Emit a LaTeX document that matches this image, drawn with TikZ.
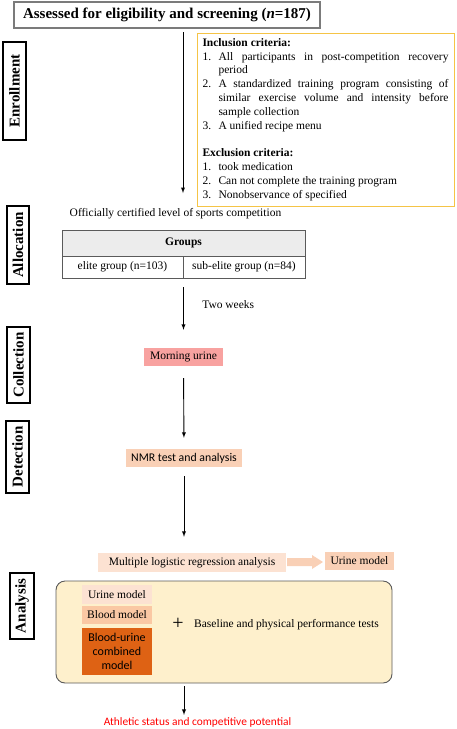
\documentclass[tikz,border=0pt]{standalone}
\usepackage{fontspec}
\setmainfont{Liberation Serif}
\newfontfamily\calib{Carlito}
\definecolor{critline}{RGB}{245,196,70}
\definecolor{pinkfill}{RGB}{248,162,160}
\definecolor{peachfill}{RGB}{249,208,182}
\definecolor{paleorange}{RGB}{252,226,210}
\definecolor{creamfill}{RGB}{254,240,204}
\definecolor{darkorange}{RGB}{222,98,20}
\definecolor{boxgray}{RGB}{90,90,90}
\newcommand{\bodysize}{\fontsize{11.5}{13.8}\selectfont}
\newenvironment{critlist}{\begin{list}{}{\setlength{\leftmargin}{16pt}\setlength{\labelwidth}{16pt}\setlength{\labelsep}{0pt}\setlength{\itemsep}{0pt}\setlength{\parsep}{0pt}\setlength{\topsep}{0pt}\setlength{\partopsep}{0pt}}}{\end{list}}
\begin{document}
\begin{tikzpicture}[x=1pt, y=-1pt,
		font=\bodysize,
		stage/.style={draw, line width=1.1pt, rotate=90, font=\fontsize{15}{15}\selectfont\bfseries, inner sep=0pt},
		cell/.style={draw=boxgray, line width=0.8pt, inner sep=0pt},
		tag/.style={inner sep=0pt},
		flow/.style={-latex, line width=0.9pt}]
		\useasboundingbox (0,0) rectangle (457,729);
		% left column
		\node[stage, minimum width=98, minimum height=23] (enroll) at (14.5,91) {Enrollment};
		\node[stage, minimum width=78, minimum height=22] (alloc) at (18,245) {Allocation};
		\node[stage, minimum width=76, minimum height=23] (collect) at (18.5,365) {Collection};
		\node[stage, minimum width=72, minimum height=23] (detect) at (17.5,457) {Detection};
		\node[stage, minimum width=66, minimum height=24] (analy) at (22,606) {Analysis};
		% enrollment
		\node[draw=boxgray!80, line width=1.4pt, minimum width=306, minimum height=26, inner sep=0pt, font=\fontsize{15}{15}\selectfont\bfseries] (title) at (167,15) {Assessed for eligibility and screening (\textit{n}=187)};
		\node[draw=critline, line width=0.9pt, minimum width=257, minimum height=173, inner sep=0pt] (crit) at (325.5,119.5) {%
			\begin{minipage}{246pt}
				\bodysize
				\textbf{Inclusion criteria:}
				\begin{critlist}
					\item[1.\hfill] All participants in post-competition recovery\linebreak period
					\item[2.\hfill] A standardized training program consisting of\linebreak similar exercise volume and intensity before\linebreak sample collection
					\item[3.\hfill] A unified recipe menu
				\end{critlist}
				\vspace{13.8pt}
				\textbf{Exclusion criteria:}
				\begin{critlist}
					\item[1.\hfill] took medication
					\item[2.\hfill] Can not complete the training program
					\item[3.\hfill] Nonobservance of specified
				\end{critlist}
			\end{minipage}};
		\coordinate (e1) at (183,32);
		\coordinate (e2) at (183,193);
		\draw[flow] (e1) -- (e2);
		% allocation
		\node[tag] (level) at (175.5,214) {Officially certified level of sports competition};
		\node[cell, fill=gray!15, minimum width=243, minimum height=26, font=\bodysize\bfseries] (groups) at (183.5,243) {Groups};
		\node[cell, minimum width=121, minimum height=22] (elite) at (122.5,267) {elite group (n=103)};
		\node[cell, minimum width=122, minimum height=22] (subelite) at (244,267) {sub-elite group (n=84)};
		% collection
		\node[tag, fill=pinkfill, minimum width=79, minimum height=18] (urine) at (183.5,357) {Morning urine};
		\draw[flow, shorten <=9pt, shorten >=18pt] (groups.center |- elite.south) -- (urine.north) node[midway, right, xshift=15pt, yshift=9pt] {Two weeks};
		% detection
		\node[tag, fill=peachfill, minimum width=116, minimum height=18, font=\calib\fontsize{11.8}{11.8}\selectfont] (nmr) at (184,458) {NMR test and analysis};
		\draw[flow, shorten <=12pt, shorten >=11pt] (urine.south) -- (nmr.north);
		% analysis
		\node[tag, fill=paleorange, minimum width=188, minimum height=19] (mlr) at (192,562.5) {Multiple logistic regression analysis};
		\node[tag, fill=peachfill, minimum width=69, minimum height=18] (umodel) at (359.5,561) {Urine model};
		\draw[flow, shorten <=9pt, shorten >=16pt] (nmr.south) -- (nmr.south |- mlr.north);
		\fill[peachfill] (287,558) -- (312,558) -- (312,555) -- (323,562) -- (312,569) -- (312,566) -- (287,566) -- cycle;
		\node[draw=boxgray, line width=0.9pt, fill=creamfill, rounded corners=9pt, minimum width=336, minimum height=102] (merge) at (224,632) {};
		\node[tag, fill=paleorange, minimum width=70, minimum height=19] (inurine) at (117,594.5) {Urine model};
		\node[tag, fill=peachfill!90!orange, minimum width=70, minimum height=18] (inblood) at (117,615) {Blood model};
		\node[tag, fill=darkorange, minimum width=70, minimum height=47, align=center, font=\calib\fontsize{12}{14}\selectfont] (combined) at (117,651.5) {Blood-urine\\combined\\model};
		\node[tag, font=\fontsize{20}{20}\selectfont] (plus) at (178,624) {+};
		\node[tag] (baseline) at (286.5,625) {Baseline and physical performance tests};
		\node[tag, text=red, font=\calib\fontsize{11.4}{11.4}\selectfont] (result) at (197.5,722) {Athletic status and competitive potential};
		\draw[flow, shorten <=3pt, shorten >=2pt] (merge.south -| nmr.south) -- (result.north -| nmr.south);
	\end{tikzpicture}
\end{document}
